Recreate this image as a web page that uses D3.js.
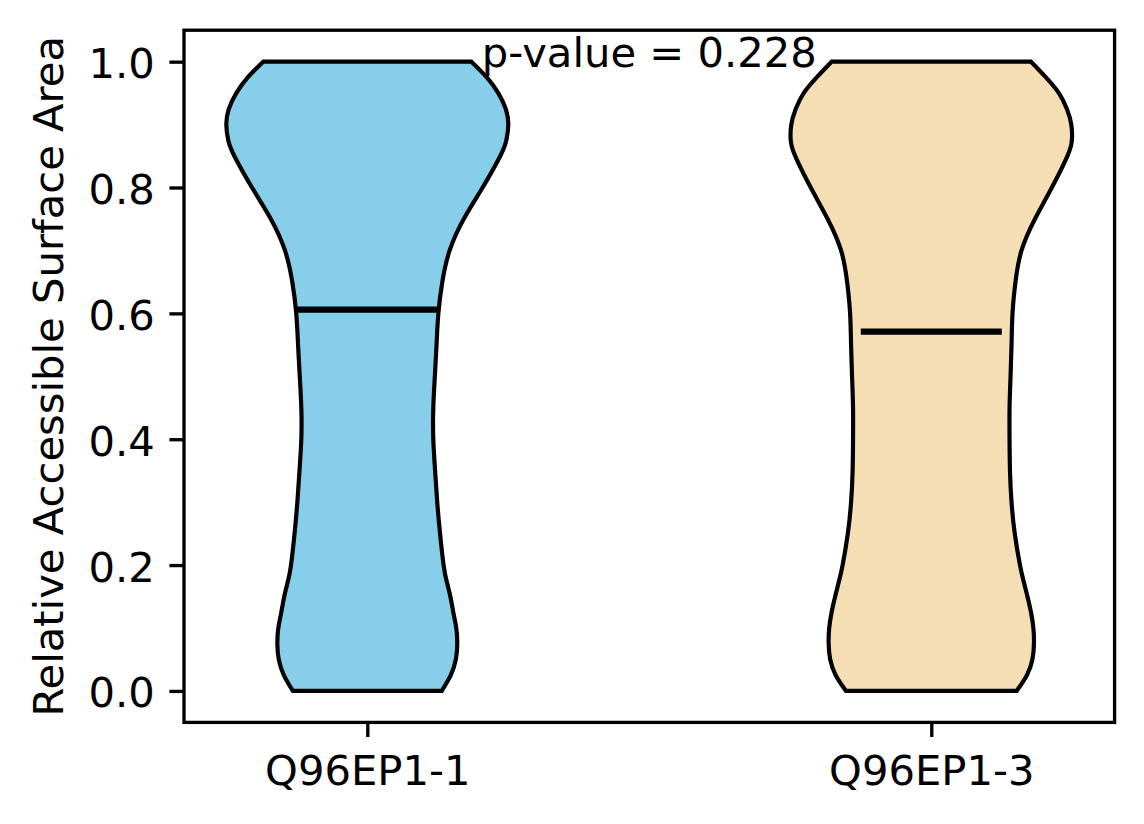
<!DOCTYPE html>
<html>
<head>
<meta charset="utf-8">
<script src="https://cdn.jsdelivr.net/npm/d3@7"></script>
<style>
  html, body { margin: 0; padding: 0; background: #fff; }
  text { font-family: "DejaVu Sans", sans-serif; }
</style>
</head>
<body>
<svg id="chart" width="1144" height="824"></svg>
<script>
// ---- data ----
const categories = ["Q96EP1-1", "Q96EP1-3"];
const positions = [1, 2];
const fillColors = ["#87CEEB", "#F5DEB3"];
// evaluation levels of the (relative) density
const levels = [0, 0.025, 0.05, 0.075, 0.1, 0.125, 0.15, 0.175, 0.2, 0.25, 0.3, 0.35, 0.4, 0.45,
                0.5, 0.55, 0.6, 0.65, 0.7, 0.75, 0.8, 0.85, 0.875, 0.9, 0.925, 0.95, 0.975, 1.0];
// normalized density (max = 1)
const density1 = [0.528, 0.592, 0.628, 0.638, 0.631, 0.610, 0.589, 0.562, 0.541, 0.516, 0.496, 0.481, 0.468, 0.468,
                  0.479, 0.491, 0.504, 0.532, 0.584, 0.684, 0.818, 0.943, 0.986, 1.000, 0.982, 0.929, 0.848, 0.738];
const density2 = [0.605, 0.678, 0.717, 0.728, 0.724, 0.707, 0.682, 0.654, 0.629, 0.592, 0.569, 0.558, 0.555, 0.555,
                  0.562, 0.569, 0.576, 0.597, 0.640, 0.735, 0.855, 0.965, 0.997, 0.993, 0.961, 0.905, 0.813, 0.707];
const means = [0.606, 0.571];
const yTicks = [0.0, 0.2, 0.4, 0.6, 0.8, 1.0];
const pValueText = "p-value = 0.228";
const yLabel = "Relative Accessible Surface Area";

(function () {
// ---- layout ----
const svg = d3.select("#chart");
const mLeft = 184, mRight = 1114.6, mTop = 30.2, mBottom = 722.4;
const fontSize = 41.7;
const violinWidth = 0.5;

const x = d3.scaleLinear().domain([0.675, 2.325]).range([mLeft, mRight]);
const y = d3.scaleLinear().domain([-0.05, 1.05]).range([mBottom, mTop]);
const unit = x(1) - x(0);

const densities = [density1, density2];

// violins
densities.forEach((dens, i) => {
  const pts = levels.map((v, k) => ({v, d: dens[k]}));
  const cx = x(positions[i]);
  const area = d3.area()
    .y(p => y(p.v))
    .x0(p => cx - p.d * violinWidth / 2 * unit)
    .x1(p => cx + p.d * violinWidth / 2 * unit)
    .curve(d3.curveNatural);
  svg.append("path")
    .attr("d", area(pts))
    .attr("fill", fillColors[i])
    .attr("stroke", "#000")
    .attr("stroke-width", 4.17)
    .attr("stroke-linejoin", "miter");
});

// mean lines
means.forEach((m, i) => {
  svg.append("line")
    .attr("x1", x(positions[i] - violinWidth / 4))
    .attr("x2", x(positions[i] + violinWidth / 4))
    .attr("y1", y(m)).attr("y2", y(m))
    .attr("stroke", "#000")
    .attr("stroke-width", 6.25);
});

// axes frame
svg.append("rect")
  .attr("x", mLeft).attr("y", mTop)
  .attr("width", mRight - mLeft).attr("height", mBottom - mTop)
  .attr("fill", "none").attr("stroke", "#000").attr("stroke-width", 3.33);

// y axis ticks
const tickLen = 14.58, pad = 14.58;
const yAxis = d3.axisLeft(y).tickValues(yTicks).tickFormat(d3.format(".1f"))
  .tickSize(tickLen).tickPadding(pad);
const gy = svg.append("g").attr("transform", `translate(${mLeft},0)`).call(yAxis);
gy.select(".domain").remove();
gy.selectAll(".tick line").attr("stroke", "#000").attr("stroke-width", 3.33);
gy.selectAll(".tick text")
  .attr("fill", "#000")
  .style("font-family", "DejaVu Sans")
  .style("font-size", fontSize + "px")
  .attr("dy", null)
  .attr("dominant-baseline", "central")
  .attr("y", 1.5);

// x axis ticks
const xAxis = d3.axisBottom(x).tickValues(positions).tickFormat((d, i) => categories[i])
  .tickSize(tickLen).tickPadding(pad);
const gx = svg.append("g").attr("transform", `translate(0,${mBottom})`).call(xAxis);
gx.select(".domain").remove();
gx.selectAll(".tick line").attr("stroke", "#000").attr("stroke-width", 3.33);
gx.selectAll(".tick text")
  .attr("fill", "#000")
  .style("font-family", "DejaVu Sans")
  .style("font-size", fontSize + "px")
  .attr("dy", null)
  .attr("y", 785 - mBottom);

// p-value annotation
svg.append("text")
  .attr("x", x(1.5))
  .attr("y", y(1.0) + 5)
  .attr("text-anchor", "middle")
  .style("font-size", fontSize + "px")
  .attr("fill", "#000")
  .text(pValueText);

// y label
svg.append("text")
  .attr("transform", `translate(63,${(mTop + mBottom) / 2}) rotate(-90)`)
  .attr("text-anchor", "middle")
  .style("font-size", fontSize + "px")
  .attr("fill", "#000")
  .text(yLabel);
})();
</script>
</body>
</html>
